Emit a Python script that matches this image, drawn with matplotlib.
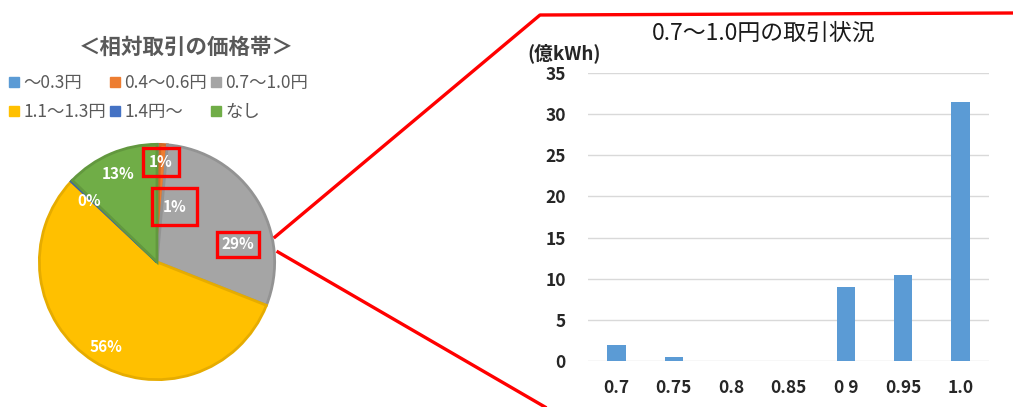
import matplotlib
matplotlib.use('Agg')
import matplotlib.pyplot as plt
from matplotlib.lines import Line2D

plt.rcParams['font.family'] = ['Noto Sans CJK JP', 'DejaVu Sans']

# pie: price bands of relative trades
bands = ['〜0.3円', '0.4〜0.6円', '0.7〜1.0円', '1.1〜1.3円', '1.4円〜', 'なし']
shares = [0.4, 1.0, 29.6, 56.0, 0.2, 12.8]
share_labels = ['1%', '1%', '29%', '56%', '0%', '13%']
pie_colors = ['#5B9BD5', '#ED7D31', '#A5A5A5', '#FFC000', '#4472C4', '#70AD47']
pie_edges = ['#4F8AC0', '#D06A28', '#939393', '#E6AC00', '#3A62A8', '#62983E']

# bar: 0.7-1.0 yen trades
prices = ['0.7', '0.75', '0.8', '0.85', '0 9', '0.95', '1.0']
volumes = [2.0, 0.5, 0.0, 0.0, 9.0, 10.5, 31.5]

W, H = 1013, 407
fig = plt.figure(figsize=(W / 100, H / 100), dpi=100)

def fx(px):
    return px / W

def fy(py):
    return 1 - py / H

# ── LEFT: pie ──
axp = fig.add_axes([fx(37), fy(382), 240 / W, 240 / H])
wedges, _ = axp.pie(shares, colors=pie_colors, startangle=90, counterclock=False,
                    wedgeprops=dict(linewidth=2))
for w, ec in zip(wedges, pie_edges):
    w.set_edgecolor(ec)
axp.set_xlim(-1.02, 1.02)
axp.set_ylim(-1.02, 1.02)
axp.axis('off')

# label placement (pie units) and red highlight boxes
label_xy = [(0.03, 0.85), (0.15, 0.47), (0.69, 0.15), (-0.43, -0.72), (-0.58, 0.52), (-0.33, 0.75)]
box_pad = [0.4, 0.7, 0.3, None, None, None]
for txt, (x, y), pad in zip(share_labels, label_xy, box_pad):
    kw = {}
    if pad is not None:
        kw['bbox'] = dict(boxstyle=f'square,pad={pad}', fc='none', ec='#FF0000', lw=2.4)
    axp.text(x, y, txt, color='white', fontsize=11, fontweight='bold',
             ha='center', va='center', **kw)

fig.text(fx(186), fy(47), '＜相対取引の価格帯＞', ha='center', va='center',
         fontsize=15.5, fontweight='bold', color='#595959')

order = [0, 3, 1, 4, 2, 5]
handles = [Line2D([], [], ls='none', marker='s', ms=6.5, color=pie_colors[i]) for i in order]
fig.legend(handles, [bands[i] for i in order], ncol=3, loc='upper left',
           bbox_to_anchor=(fx(-2), fy(62)), frameon=False, fontsize=12.5,
           handlelength=0.5, handletextpad=0.25, columnspacing=0.3,
           labelspacing=0.62, labelcolor='#595959', borderpad=0.2)

# ── RIGHT: bar ──
axb = fig.add_axes([fx(588), fy(361), 401 / W, 288 / H])
axb.bar(range(len(prices)), volumes, width=0.32, color='#5B9BD5')
axb.set_xlim(-0.5, len(prices) - 0.5)
axb.set_ylim(0, 35)
axb.set_yticks(range(0, 36, 5))
axb.set_xticks(range(len(prices)))
axb.set_xticklabels(prices)
axb.grid(axis='y', color='#D9D9D9', lw=1)
axb.set_axisbelow(True)
for s in axb.spines.values():
    s.set_visible(False)
axb.tick_params(length=0, labelsize=12.5, labelcolor='#262626')
axb.tick_params(axis='x', pad=13)
axb.tick_params(axis='y', pad=16)
for t in axb.get_xticklabels() + axb.get_yticklabels():
    t.set_fontweight('bold')

fig.text(fx(764), fy(33), '0.7〜1.0円の取引状況', ha='center', va='center',
         fontsize=16.5, color='#1a1a1a')
fig.text(fx(527), fy(53), '(億kWh)', ha='left', va='center',
         fontsize=13.5, fontweight='bold', color='#262626')

# red zoom connectors
fig.add_artist(Line2D([fx(275), fx(540), fx(1013)], [fy(237), fy(15), fy(13)],
                      color='#FF0000', lw=2.4, transform=fig.transFigure))
fig.add_artist(Line2D([fx(278), fx(545)], [fy(252), fy(407)],
                      color='#FF0000', lw=2.4, transform=fig.transFigure))

fig.savefig('out.png', dpi=100, facecolor='white')
